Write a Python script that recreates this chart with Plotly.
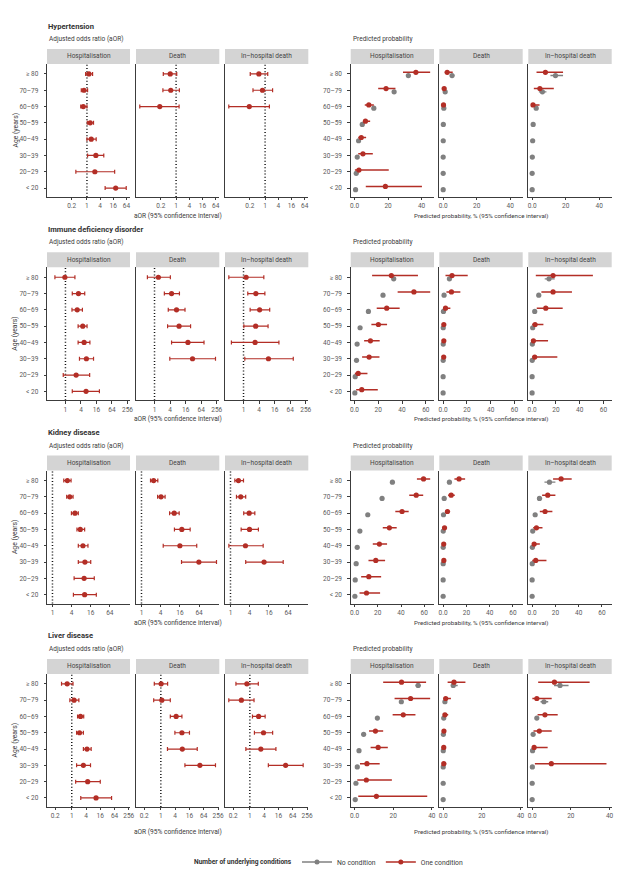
import plotly.graph_objects as go

W, H = 643, 884
RED = "#B32E26"
GREY = "#808080"
FONT = "Roboto"

AGE_LABELS = ["≥ 80", "70–79", "60–69", "50–59", "40–49", "30–39", "20–29", "< 20"]
OUTCOMES = ["Hospitalisation", "Death", "In–hospital death"]
CONDITIONS = ["Hypertension", "Immune deficiency disorder", "Kidney disease", "Liver disease"]

# ---- values: (estimate, lower, upper), rows from ≥ 80 down to < 20 ----
# Hypertension
hyp_aor_hosp = [(1.23, 0.87, 1.81), (0.73, 0.55, 1.07), (0.68, 0.52, 1.0), (1.41, 1.04, 2.0),
                (1.57, 1.0, 2.65), (2.56, 1.07, 5.9), (2.3, 0.31, 18.6), (20.7, 6.8, 63)]
hyp_aor_death = [(0.54, 0.26, 1.07), (0.57, 0.25, 1.41), (0.18, 0.022, 1.37), None, None, None, None, None]
hyp_aor_inhosp = [(0.52, 0.21, 1.32), (0.76, 0.28, 2.2), (0.19, 0.022, 1.57), None, None, None, None, None]
hyp_one_hosp = [(36.6, 28.9, 45.1), (18.8, 14.1, 24.4), (8.5, 6.1, 11.5), (6.5, 5.0, 9.3),
                (4.0, 2.2, 6.9), (5.0, 2.2, 10.9), (2.6, 0.2, 20.4), (18.4, 6.7, 40.2)]
hyp_one_death = [(2.4, 1.0, 5.7), (0.6, 0.1, 1.6), (0.2, 0.05, 0.9), None, None, None, None, None]
hyp_one_inhosp = [(7.9, 2.6, 18.4), (4.6, 1.0, 12.9), (0.5, 0.1, 4.4), None, None, None, None, None]
hyp_none_hosp = [(32.1, 31.0, 33.2), (23.6, 22.8, 24.4), (11.5, 11.0, 12.0), (4.6, 4.3, 4.9),
                 (2.4, 2.2, 2.6), (1.6, 1.4, 1.8), (1.0, 0.8, 1.2), (0.6, 0.4, 0.8)]
hyp_none_death = [(5.3, 4.4, 6.7), (1.2, 1.0, 1.4), (0.4, 0.3, 0.5), (0.1, 0.1, 0.1),
                  (0.05, 0.05, 0.05), (0.02, 0.02, 0.02), (0.01, 0.01, 0.01), (0.01, 0.01, 0.01)]
hyp_none_inhosp = [(13.9, 10.9, 18.4), (6.1, 4.0, 8.5), (2.4, 2.0, 2.8), (0.6, 0.5, 0.7),
                   (0.3, 0.2, 0.4), (0.1, 0.05, 0.15), (0.0, 0.0, 0.05), (0.0, 0.0, 0.05)]

# Immune deficiency disorder
imm_aor_hosp = [(0.95, 0.39, 2.33), (3.2, 1.84, 5.6), (2.86, 1.79, 4.56), (4.7, 3.1, 6.9),
                (5.3, 3.1, 8.9), (6.5, 3.5, 12.3), (2.6, 0.82, 8.7), (6.3, 1.84, 20.8)]
imm_aor_death = [(1.41, 0.53, 4.1), (4.56, 2.4, 9.2), (7.1, 3.4, 15.1), (8.9, 3.2, 24.8),
                 (19.6, 4.56, 82), (29.5, 3.9, 228), None, None]
imm_aor_inhosp = [(1.26, 0.27, 6.1), (3.0, 1.46, 6.7), (4.2, 1.8, 10.3), (2.95, 1.03, 8.9),
                  (2.8, 0.34, 23.4), (9.2, 1.12, 84), None, None]
imm_one_hosp = [(31.0, 14.8, 53.4), (50.0, 36.3, 63.7), (27.1, 18.7, 38.0), (20.1, 14.2, 27.4),
                (13.4, 8.1, 21.2), (12.3, 6.4, 21.0), (3.1, 0.3, 10.9), (6.1, 1.4, 19.6)]
imm_one_death = [(7.5, 2.0, 20.7), (7.0, 2.8, 14.5), (2.0, 0.3, 6.1), (0.6, 0.1, 1.7),
                 (0.6, 0.1, 2.0), (0.5, 0.1, 2.0), None, None]
imm_one_inhosp = [(17.6, 3.1, 51.1), (17.6, 7.8, 33.5), (11.5, 3.9, 25.7), (2.5, 0.1, 9.5),
                  (1.1, 0.05, 13.4), (2.2, 0.1, 21.2), None, None]
imm_none_hosp = [(33.0, 32.0, 34.0), (24.0, 23.3, 24.7), (11.7, 11.2, 12.2), (4.7, 4.4, 5.0),
                 (2.2, 2.0, 2.4), (1.7, 1.5, 1.9), (0.6, 0.5, 0.7), (0.3, 0.2, 0.4)]
imm_none_death = [(5.3, 4.5, 6.2), (0.8, 0.6, 1.0), (0.3, 0.25, 0.35), (0.1, 0.1, 0.1),
                  (0.1, 0.1, 0.1), (0.05, 0.05, 0.05), (0.02, 0.02, 0.02), (0.01, 0.01, 0.01)]
imm_none_inhosp = [(14.2, 10.6, 19.0), (5.6, 4.2, 7.5), (2.2, 1.9, 2.5), (0.5, 0.5, 0.5),
                   (0.2, 0.2, 0.2), (0.1, 0.1, 0.1), (0.0, 0.0, 0.0), (0.0, 0.0, 0.0)]

# Kidney disease
kid_aor_hosp = [(2.95, 2.27, 3.85), (3.5, 2.8, 4.45), (5.1, 3.95, 6.5), (7.5, 5.9, 10.3),
                (9.1, 6.5, 13.1), (10.5, 6.5, 16.0), (9.9, 4.8, 20.7), (10.3, 4.56, 24.0)]
kid_aor_death = [(2.4, 1.92, 3.25), (4.1, 3.2, 5.5), (10.6, 7.6, 15.2), (18.4, 10.8, 33.6),
                 (16.0, 4.8, 54.0), (63.0, 18.0, 225.0), None, None]
kid_aor_inhosp = [(1.78, 1.37, 2.56), (2.1, 1.54, 3.0), (3.85, 2.6, 5.8), (3.95, 2.16, 7.5),
                  (2.95, 0.89, 10.6), (11.3, 3.0, 45.0), None, None]
kid_one_hosp = [(59.4, 53.7, 65.1), (53.1, 47.1, 59.1), (40.9, 35.1, 46.6), (30.0, 24.3, 36.3),
                (21.4, 15.7, 28.0), (18.3, 12.0, 26.3), (12.3, 5.7, 22.9), (10.3, 4.3, 22.0)]
kid_one_death = [(13.7, 9.7, 18.9), (6.9, 4.3, 10.0), (3.7, 2.0, 6.0), (1.2, 0.4, 2.2),
                 (0.5, 0.1, 1.4), (0.6, 0.2, 1.9), None, None]
kid_one_inhosp = [(24.9, 18.0, 34.0), (13.4, 8.6, 20.0), (11.1, 6.6, 17.4), (3.7, 0.9, 8.9),
                  (1.7, 0.1, 6.6), (3.1, 0.1, 12.3), None, None]
kid_none_hosp = [(32.6, 31.6, 33.6), (23.7, 23.0, 24.4), (11.4, 10.9, 11.9), (4.6, 4.3, 4.9),
                 (2.3, 2.1, 2.5), (1.4, 1.2, 1.6), (0.6, 0.5, 0.7), (0.3, 0.2, 0.4)]
kid_none_death = [(5.4, 4.6, 6.3), (0.9, 0.7, 1.1), (0.3, 0.3, 0.3), (0.1, 0.1, 0.1),
                  (0.05, 0.05, 0.05), (0.03, 0.03, 0.03), (0.01, 0.01, 0.01), (0.01, 0.01, 0.01)]
kid_none_inhosp = [(14.9, 10.6, 20.0), (6.3, 4.3, 8.6), (2.6, 2.2, 3.0), (0.5, 0.5, 0.5),
                   (0.2, 0.2, 0.2), (0.1, 0.1, 0.1), (0.0, 0.0, 0.0), (0.0, 0.0, 0.0)]

# Liver disease
liv_aor_hosp = [(0.64, 0.37, 1.13), (1.25, 0.83, 2.0), (2.34, 1.76, 3.2), (2.13, 1.6, 3.1),
                (4.4, 3.1, 6.6), (3.1, 1.6, 6.2), (4.7, 1.46, 16.0), (10.6, 2.4, 48.0)]
liv_aor_death = [(1.03, 0.53, 1.93), (1.1, 0.5, 2.5), (4.4, 2.5, 7.7), (7.7, 3.9, 16.0),
                 (8.0, 1.9, 34.0), (44.0, 10.3, 199.0), None, None]
liv_aor_inhosp = [(0.75, 0.26, 2.27), (0.44, 0.13, 1.5), (2.34, 1.29, 4.4), (3.76, 1.56, 9.1),
                  (2.9, 0.68, 12.5), (32.0, 6.0, 175.0), None, None]
liv_one_hosp = [(24.3, 14.8, 37.0), (29.0, 20.7, 39.1), (25.2, 19.7, 31.5), (10.8, 7.5, 14.8),
                (12.2, 8.3, 17.2), (6.4, 2.8, 13.0), (6.1, 1.4, 19.3), (11.3, 1.9, 37.6)]
liv_one_death = [(5.6, 2.3, 11.5), (1.3, 0.3, 4.0), (0.9, 0.2, 2.6), (0.4, 0.05, 1.2),
                 (0.3, 0.05, 0.8), (0.3, 0.05, 1.6), None, None]
liv_one_inhosp = [(11.5, 3.1, 29.7), (2.4, 0.1, 10.1), (6.6, 2.8, 13.2), (3.7, 0.7, 10.1),
                  (1.0, 0.05, 8.0), (9.9, 1.4, 38.4), None, None]
liv_none_hosp = [(32.9, 31.5, 34.3), (24.2, 23.4, 25.0), (11.8, 11.3, 12.3), (4.7, 4.4, 5.0),
                 (2.3, 2.1, 2.5), (1.4, 1.2, 1.6), (0.7, 0.5, 0.9), (0.35, 0.25, 0.45)]
liv_none_death = [(5.2, 4.0, 7.5), (0.9, 0.7, 1.1), (0.3, 0.3, 0.3), (0.1, 0.1, 0.1),
                  (0.05, 0.05, 0.05), (0.02, 0.02, 0.02), (0.01, 0.01, 0.01), (0.0, 0.0, 0.0)]
liv_none_inhosp = [(14.4, 11.3, 18.8), (6.1, 4.3, 8.3), (2.4, 2.0, 2.8), (0.5, 0.5, 0.5),
                   (0.2, 0.2, 0.2), (0.1, 0.1, 0.1), (0.0, 0.0, 0.0), (0.0, 0.0, 0.0)]

# axis ticks / ranges per condition
aor_ticks = [[0.2, 1, 4, 16, 64], [1, 4, 16, 64, 256], [1, 4, 16, 64], [0.2, 1, 4, 16, 64, 256]]
aor_ranges_log10 = [[-1.830, 1.972], [-0.716, 2.505], [-0.172, 2.440], [-1.045, 2.459]]
prob_ticks = [[0, 20, 40], [0, 20, 40, 60], [0, 20, 40, 60], [0, 20, 40]]
prob_ranges = [[-2.3, 47.4], [-3.2, 66.9], [-3.3, 68.4], [-2.0, 41.1]]

AOR = [[hyp_aor_hosp, hyp_aor_death, hyp_aor_inhosp],
       [imm_aor_hosp, imm_aor_death, imm_aor_inhosp],
       [kid_aor_hosp, kid_aor_death, kid_aor_inhosp],
       [liv_aor_hosp, liv_aor_death, liv_aor_inhosp]]
ONE = [[hyp_one_hosp, hyp_one_death, hyp_one_inhosp],
       [imm_one_hosp, imm_one_death, imm_one_inhosp],
       [kid_one_hosp, kid_one_death, kid_one_inhosp],
       [liv_one_hosp, liv_one_death, liv_one_inhosp]]
NONE_ = [[hyp_none_hosp, hyp_none_death, hyp_none_inhosp],
         [imm_none_hosp, imm_none_death, imm_none_inhosp],
         [kid_none_hosp, kid_none_death, kid_none_inhosp],
         [liv_none_hosp, liv_none_death, liv_none_inhosp]]

# ---- geometry (pixels) ----
LEFT_X = [(47, 130), (136, 219.3), (225, 308.3)]
RIGHT_X = [(350.7, 434), (439.3, 522.7), (528.3, 611.7)]
SEC_DY = 203.3
PLOT_TOP0 = 64
PLOT_H = 133
STRIP_H = 15
Y_RANGE = [0.45, 8.61]
AXC = "#3c3c3c"
TXT = "#3a3a3a"
TICKC = "#5a5a5a"


def px(x):
    return x / W


def py(y):
    return 1 - y / H


fig = go.Figure()
layout = dict(template="none", width=W, height=H, margin=dict(l=0, r=0, t=0, b=0, pad=0),
              paper_bgcolor="white", plot_bgcolor="white",
              font=dict(family=FONT, color=TXT, size=7))
shapes, annotations = [], []


def add_series(data, xa, ya, color, dy, cap, lw, msize):
    xs, ys, ep, em = [], [], [], []
    for r, t in enumerate(data):
        if t is None:
            continue
        est, lo, hi = t
        xs.append(est)
        ys.append(8 - r + dy)
        ep.append(hi - est)
        em.append(est - lo)
    fig.add_trace(go.Scatter(
        x=xs, y=ys, xaxis=xa, yaxis=ya, mode="markers",
        marker=dict(color=color, size=msize, line=dict(width=0)),
        error_x=dict(type="data", symmetric=False, array=ep, arrayminus=em,
                     color=color, thickness=lw, width=cap),
        showlegend=False, hoverinfo="skip"))


def note(text, x, y, size, xanchor="left", color=TXT, **kw):
    annotations.append(dict(text=text, x=px(x), y=py(y), xref="paper", yref="paper",
                            xanchor=xanchor, yanchor="middle", showarrow=False,
                            font=dict(size=size, color=color), **kw))


idx = 0
for s in range(4):
    top = PLOT_TOP0 + SEC_DY * s
    bot = top + PLOT_H
    ydom = [py(bot), py(top)]
    note("<b>%s</b>" % CONDITIONS[s], 46, top - 38, 7.6, color="#333")
    note("Adjusted odds ratio (aOR)", 46.5, top - 25, 6.5)
    note("Predicted probability", 350.5, top - 25, 6.5)
    xt_y = bot + 19 if s < 3 else bot + 25.5
    note("aOR (95% confidence interval)", (47 + 308.3) / 2, xt_y, 6.6, xanchor="center")
    note("Predicted probability, % (95% confidence interval)", (350.7 + 611.7) / 2, xt_y, 6.2,
         xanchor="center")
    note("Age (years)", 15, (top + bot) / 2, 6.8, xanchor="center", textangle=-90)
    for side in range(2):
        for p in range(3):
            idx += 1
            xa = "x" if idx == 1 else "x%d" % idx
            ya = "y" if idx == 1 else "y%d" % idx
            xk = "xaxis" if idx == 1 else "xaxis%d" % idx
            yk = "yaxis" if idx == 1 else "yaxis%d" % idx
            x0, x1 = (LEFT_X if side == 0 else RIGHT_X)[p]
            if side == 0:
                ticks = aor_ticks[s]
                layout[xk] = dict(domain=[px(x0), px(x1)], anchor=ya, type="log", range=aor_ranges_log10[s],
                                  tickvals=ticks, ticktext=[("%g" % t) for t in ticks])
            else:
                ticks = prob_ticks[s]
                layout[xk] = dict(domain=[px(x0), px(x1)], anchor=ya, type="linear", range=prob_ranges[s],
                                  tickvals=ticks, ticktext=["0.0" if t == 0 else str(t) for t in ticks])
            layout[xk].update(showline=True, linecolor=AXC, linewidth=0.8, ticks="outside", ticklen=2.5,
                              tickwidth=0.8, tickcolor=AXC, showgrid=False, zeroline=False, automargin=False,
                              tickfont=dict(size=6.5, color=TICKC), fixedrange=True)
            layout[yk] = dict(domain=ydom, anchor=xa, range=Y_RANGE, showline=True, linecolor=AXC,
                              linewidth=0.8, showgrid=False, zeroline=False, fixedrange=True, automargin=False,
                              tickvals=[8, 7, 6, 5, 4, 3, 2, 1], ticktext=AGE_LABELS,
                              showticklabels=(p == 0), ticks="outside" if p == 0 else "",
                              ticklen=2.5, tickwidth=0.8, tickcolor=AXC, ticklabelstandoff=4,
                              tickfont=dict(size=6.5, color=TICKC))
            # strip
            shapes.append(dict(type="rect", xref="%s domain" % xa, yref="%s domain" % ya,
                               x0=0, x1=1, y0=1, y1=1 + STRIP_H / PLOT_H, fillcolor="#D4D4D4",
                               line=dict(width=0), layer="below"))
            annotations.append(dict(text=OUTCOMES[p], xref="%s domain" % xa, yref="%s domain" % ya,
                                    x=0.5, y=1 + STRIP_H / 2 / PLOT_H, xanchor="center", yanchor="middle",
                                    showarrow=False, font=dict(size=6.5, color="#444")))
            if side == 0:
                shapes.append(dict(type="line", xref=xa, yref="%s domain" % ya, x0=1, x1=1, y0=0, y1=1,
                                   line=dict(color="#111", width=1.5, dash="1px,2.2px"), layer="below"))
                add_series(AOR[s][p], xa, ya, RED, 0, 2, 1.2, 5.2)
            else:
                add_series(NONE_[s][p], xa, ya, GREY, -0.1, 0, 1.4, 5.2)
                add_series(ONE[s][p], xa, ya, RED, 0.1, 0, 1.5, 5.2)

# legend entries
fig.add_trace(go.Scatter(x=[None], y=[None], xaxis="x", yaxis="y", mode="lines+markers", name="No condition",
                         line=dict(color=GREY, width=1.4), marker=dict(color=GREY, size=5)))
fig.add_trace(go.Scatter(x=[None], y=[None], xaxis="x", yaxis="y", mode="lines+markers", name="One condition",
                         line=dict(color=RED, width=1.4), marker=dict(color=RED, size=5)))
note("<b>Number of underlying conditions</b>", 294, 862, 6.6, xanchor="right", color="#333")

layout["shapes"] = shapes
layout["annotations"] = annotations
layout["showlegend"] = True
layout["legend"] = dict(orientation="h", x=px(297), xanchor="left", y=py(862), yanchor="middle",
                        font=dict(size=6.8, color=TXT), bgcolor="rgba(0,0,0,0)", borderwidth=0,
                        itemwidth=30, tracegroupgap=0)
fig.update_layout(**layout)
fig.write_html("out.html", config={"displayModeBar": False},
               post_script="document.body.style.margin='0';document.body.style.overflow='hidden';")
